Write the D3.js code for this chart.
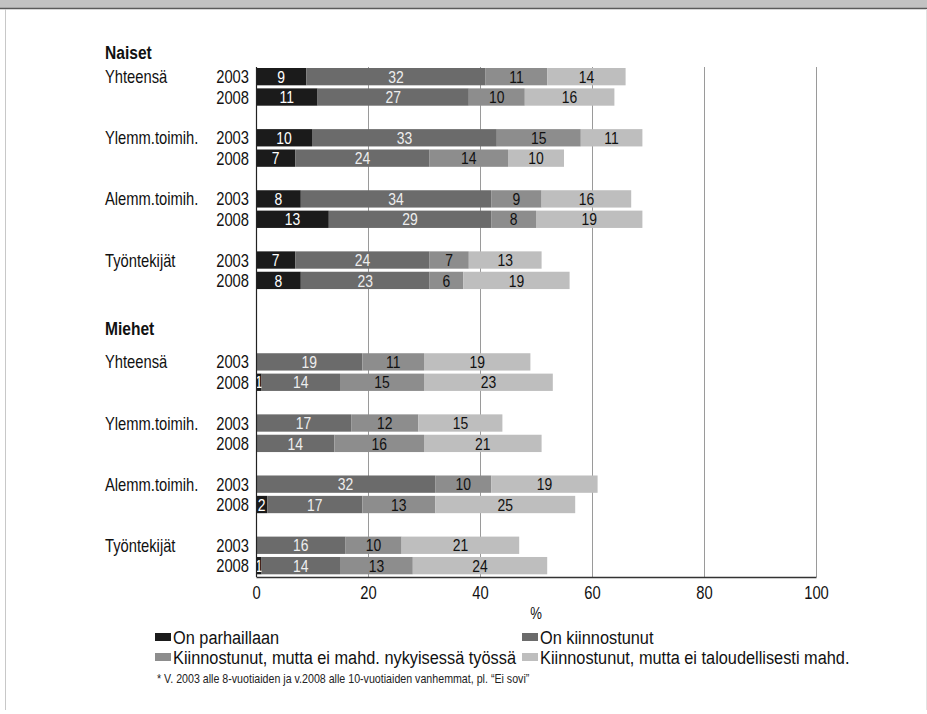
<!DOCTYPE html>
<html>
<head>
<meta charset="utf-8">
<script src="https://cdn.jsdelivr.net/npm/d3@7"></script>
<style>
  html, body { margin: 0; padding: 0; background: #fff; }
  svg { display: block; }
  text { font-family: "Liberation Sans", Arial, sans-serif; }
</style>
</head>
<body>
<svg id="chart" width="927" height="714"></svg>
<script>
// ---------- data ----------
const sections = ["Naiset", "Miehet"];
const groups = ["Yhteensä", "Ylemm.toimih.", "Alemm.toimih.", "Työntekijät"];
const years = ["2003", "2008"];
const seriesNames = [
  "On parhaillaan",
  "On kiinnostunut",
  "Kiinnostunut, mutta ei mahd. nykyisessä työssä",
  "Kiinnostunut, mutta ei taloudellisesti mahd."
];
// order: Naiset (Yhteensä 2003, 2008, Ylemm 2003, 2008, Alemm 2003, 2008, Työnt 2003, 2008), then Miehet same
const onParhaillaan      = [9, 11, 10, 7, 8, 13, 7, 8,   0, 1, 0, 0, 0, 2, 0, 1];
const onKiinnostunut     = [32, 27, 33, 24, 34, 29, 24, 23,   19, 14, 17, 14, 32, 17, 16, 14];
const eiNykyisessaTyossa = [11, 10, 15, 14, 9, 8, 7, 6,   11, 15, 12, 16, 10, 13, 10, 13];
const eiTaloudellisesti  = [14, 16, 11, 10, 16, 19, 13, 19,   19, 23, 15, 21, 19, 25, 21, 24];
const xTicks = [0, 20, 40, 60, 80, 100];
const axisTitle = "%";
const footnote = "* V. 2003 alle 8-vuotiaiden ja v.2008 alle 10-vuotiaiden vanhemmat, pl. \u201cEi sovi\u201d";

const seriesValues = [onParhaillaan, onKiinnostunut, eiNykyisessaTyossa, eiTaloudellisesti];
const colors = ["#1b1b1b", "#6b6b6b", "#8d8d8d", "#bebebe"];
const labelColors = ["#ffffff", "#eeeeee", "#111111", "#111111"];
const NARROW = 0.82;

// ---------- build rows ----------
const rows = [];
sections.forEach((sec, s) => {
  groups.forEach((g, gi) => {
    years.forEach((yr, yi) => {
      const i = s * 8 + gi * 2 + yi;
      rows.push({
        section: sec, group: g, year: yr, yi,
        slot: s * 14 + gi * 3 + yi,
        values: seriesValues.map(arr => arr[i])
      });
    });
  });
});

const svg = d3.select("#chart");
const W = 927, H = 714;

// condensed text helper
function addText(parent, tx, ty, str, o = {}) {
  return parent.append("text")
    .attr("transform", `translate(${tx},${ty}) scale(${o.sx || NARROW},1)`)
    .attr("dy", "0.36em")
    .attr("text-anchor", o.anchor || "start")
    .attr("font-size", o.size || 18)
    .attr("font-weight", o.weight || "normal")
    .attr("fill", o.fill || "#111")
    .text(str);
}

// frame
svg.append("rect").attr("x", 0).attr("y", 0).attr("width", W).attr("height", 8).attr("fill", "#c2c2c2");
svg.append("line").attr("x1", 0).attr("x2", W).attr("y1", 8.5).attr("y2", 8.5).attr("stroke", "#5a5a5a").attr("stroke-width", 1.5);
svg.append("line").attr("x1", 5.5).attr("x2", 5.5).attr("y1", 9).attr("y2", 710).attr("stroke", "#c8c8c8").attr("stroke-width", 1);
svg.append("line").attr("x1", 926.5).attr("x2", 926.5).attr("y1", 9).attr("y2", 710).attr("stroke", "#e2e2e2").attr("stroke-width", 1);

// scales
const plotTop = 67, plotBottom = 577;
const x = d3.scaleLinear().domain([0, 100]).range([256, 816]);
const y = d3.scaleBand().domain(d3.range(25)).range([68, 574.3]).paddingInner(0.15).paddingOuter(0);

// gridlines
svg.append("g").selectAll("line").data(xTicks.filter(d => d > 0)).join("line")
  .attr("x1", d => x(d) + 0.5).attr("x2", d => x(d) + 0.5)
  .attr("y1", plotTop).attr("y2", plotBottom)
  .attr("stroke", "#9a9a9a").attr("stroke-width", 1);

// bars
const stackData = rows.map(r => {
  let acc = 0;
  return r.values.map((v, k) => { const seg = { row: r, k, v, x0: acc, x1: acc + v }; acc += v; return seg; });
});

const gBars = svg.append("g");
stackData.forEach(segs => {
  segs.forEach(seg => {
    if (seg.v <= 0) return;
    gBars.append("rect")
      .attr("x", x(seg.x0)).attr("width", x(seg.x1) - x(seg.x0))
      .attr("y", y(seg.row.slot)).attr("height", y.bandwidth())
      .attr("fill", colors[seg.k]);
    addText(gBars, (x(seg.x0) + x(seg.x1)) / 2, y(seg.row.slot) + y.bandwidth() / 2, seg.v,
      { anchor: "middle", size: 17, fill: labelColors[seg.k] });
  });
});

// axes
svg.append("line").attr("x1", x(0) + 0.5).attr("x2", x(0) + 0.5).attr("y1", plotTop).attr("y2", plotBottom)
  .attr("stroke", "#222").attr("stroke-width", 1.2);
const xAxis = d3.axisBottom(x).tickValues(xTicks).tickSize(0).tickPadding(9).tickFormat(d3.format("d"));
const gx = svg.append("g").attr("transform", `translate(0,${plotBottom})`).call(xAxis);
gx.select(".domain").attr("stroke", "#333").attr("stroke-width", 1.5);
gx.selectAll("text").attr("font-size", 18).attr("fill", "#111")
  .attr("transform", `scale(${NARROW},1)`)
  .style("font-family", "'Liberation Sans', Arial, sans-serif");
addText(svg, x(50), 613, axisTitle, { anchor: "middle", size: 16 });

// row labels
const gLab = svg.append("g");
rows.forEach(r => {
  const cy = y(r.slot) + y.bandwidth() / 2;
  addText(gLab, 249, cy, r.year, { anchor: "end", size: 18 });
  if (r.yi === 0) addText(gLab, 105, cy, r.group, { size: 18 });
});
// section headers
[[0, -16], [14, -25]].forEach(([slot, off], s) => {
  addText(gLab, 105, y(slot) + off, sections[s], { size: 19, weight: "bold" });
});

// legend
const legendPos = [[155, 637], [522, 637], [155, 657], [522, 657]];
const leg = svg.append("g");
seriesNames.forEach((name, k) => {
  const [lx, ly] = legendPos[k];
  leg.append("rect").attr("x", lx).attr("y", ly - 4).attr("width", 16).attr("height", 8).attr("fill", colors[k]);
  addText(leg, lx + 18, ly, name, { size: 19, sx: 0.86 });
});

// footnote
addText(svg, 157, 678, footnote, { size: 13, fill: "#222" });
</script>
</body>
</html>
